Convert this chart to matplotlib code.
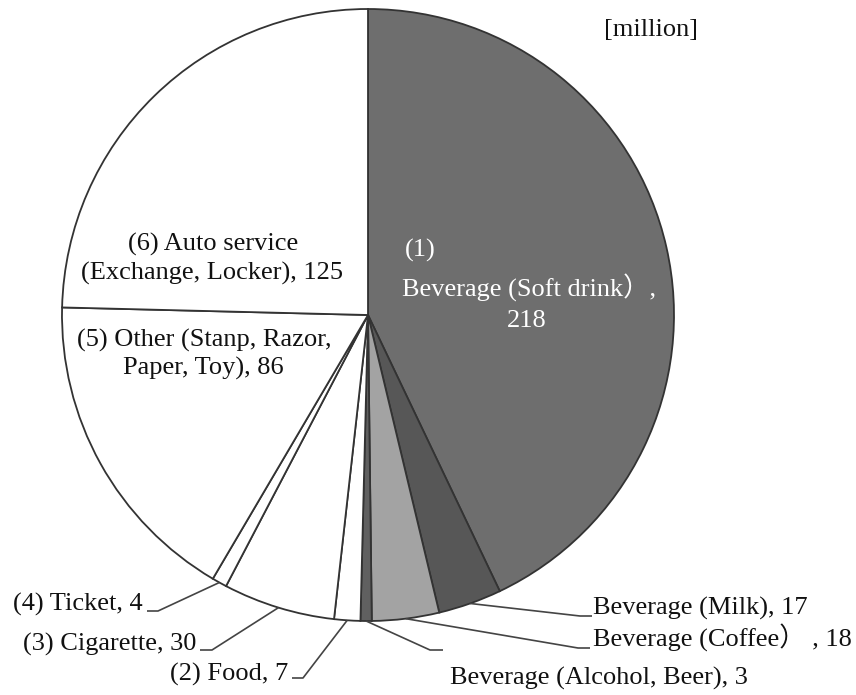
import matplotlib
matplotlib.use("Agg")
import matplotlib.pyplot as plt
import numpy as np

plt.rcParams['font.family'] = ['Liberation Serif', 'Noto Sans CJK JP', 'DejaVu Sans']

# Vending machine sales by category [million]
categories = ["Beverage (Soft drink）", "Beverage (Milk)", "Beverage (Coffee）",
              "Beverage (Alcohol, Beer)", "(2) Food", "(3) Cigarette", "(4) Ticket",
              "(5) Other (Stanp, Razor, Paper, Toy)", "(6) Auto service (Exchange, Locker)"]
values = [218, 17, 18, 3, 7, 30, 4, 86, 125]
colors = ["#6e6e6e", "#575757", "#a3a3a3", "#606060",
          "white", "white", "white", "white", "white"]
unit_label = "[million]"

W, H = 856, 695
fig = plt.figure(figsize=(W / 100, H / 100), dpi=100)
ax = fig.add_axes([0, 0, 1, 1])

cx, cy, r = 368, H - 315, 306
wedges, _ = ax.pie(values, colors=colors, startangle=90, counterclock=False,
                   center=(cx, cy), radius=r,
                   wedgeprops=dict(edgecolor="#333333", linewidth=1.3))
ax.set_xlim(0, W)
ax.set_ylim(0, H)
ax.set_aspect("equal")
ax.axis("off")

FS = 19
txt = dict(fontsize=FS, color="#111111")


def edge_point(w):
    t = np.deg2rad((w.theta1 + w.theta2) / 2)
    return cx + r * np.cos(t), cy + r * np.sin(t)


def Y(py):
    return H - py


# Soft drink label inside its slice
ax.text(405, Y(257), "(1)", ha="left", va="baseline", fontsize=FS, color="white")
ax.text(402, Y(297), f"{categories[0]},", ha="left", va="baseline", fontsize=FS, color="white")
ax.text(527, Y(327), f"{values[0]}", ha="center", va="baseline", fontsize=FS, color="white")

# Auto service / Other labels inside white slices
ax.text(213, Y(251), "(6) Auto service", ha="center", va="baseline", **txt)
ax.text(212, Y(280), f"(Exchange, Locker), {values[8]}", ha="center", va="baseline", **txt)
ax.text(204, Y(347), "(5) Other (Stanp, Razor,", ha="center", va="baseline", **txt)
ax.text(203, Y(375), f"Paper, Toy), {values[7]}", ha="center", va="baseline", **txt)

# Outside labels with leader lines: (index, elbow, end, text anchor, ha)
outside = [
    (1, (580, 616), (592, 616), (593, 615), "left", f"{categories[1]}, {values[1]}"),
    (2, (578, 648), (590, 648), (593, 647), "left", f"{categories[2]} , {values[2]}"),
    (3, (430, 650), (443, 650), (450, 685), "left", f"{categories[3]}, {values[3]}"),
    (4, (303, 678), (292, 678), (288, 681), "right", f"{categories[4]}, {values[4]}"),
    (5, (212, 650), (200, 650), (196, 651), "right", f"{categories[5]}, {values[5]}"),
    (6, (158, 611), (147, 611), (143, 611), "right", f"{categories[6]}, {values[6]}"),
]
for i, elbow, end, anchor, ha, label in outside:
    sx, sy = edge_point(wedges[i])
    ax.plot([sx, elbow[0], end[0]], [sy, Y(elbow[1]), Y(end[1])],
            color="#444444", linewidth=1.2, solid_capstyle="butt")
    ax.text(anchor[0], Y(anchor[1]), label, ha=ha, va="baseline", **txt)

ax.text(651, Y(36), unit_label, ha="center", va="baseline", **txt)

fig.savefig("out.png", dpi=100, facecolor="white")
